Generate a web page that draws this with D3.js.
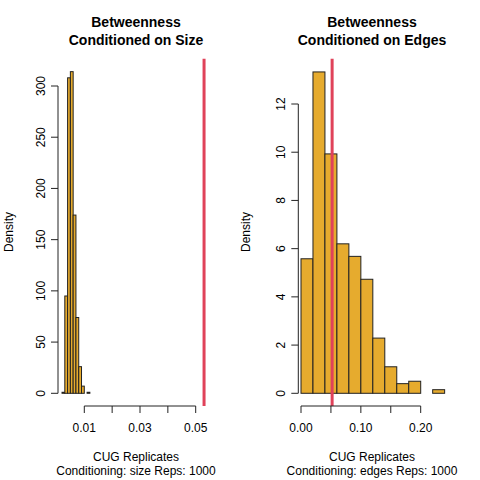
<!DOCTYPE html>
<html><head><meta charset="utf-8">
<script src="https://cdn.jsdelivr.net/npm/d3@7"></script>
<style>body{margin:0;background:#fff}text{font-family:"Liberation Sans",Arial,sans-serif}</style>
</head><body><div id="svg"></div>
<script>
// bins: [x0, x1, density]
var sizeBins = [[0.002,0.003,1],[0.003,0.004,95],[0.004,0.005,308],[0.005,0.006,314],
  [0.006,0.007,174],[0.007,0.008,74],[0.008,0.009,26],[0.009,0.010,7],[0.010,0.011,0],[0.011,0.012,1]];
var sizeObs = 0.053;
var sizeXTicks = [0.01,0.02,0.03,0.04,0.05];
var sizeXLabels = ["0.01","","0.03","","0.05"];
var sizeYTicks = [0,50,100,150,200,250,300];

var edgeDens = [5.58,13.33,9.93,6.2,5.68,4.73,2.29,1.1,0.4,0.5,0,0.15];
var edgeBins = edgeDens.map(function(d,i){ return [i*0.02,(i+1)*0.02,d]; });
var edgeObs = 0.052;
var edgeXTicks = [0,0.05,0.1,0.15,0.2];
var edgeXLabels = ["0.00","","0.10","","0.20"];
var edgeYTicks = [0,2,4,6,8,10,12];

var svg = d3.select("#svg").append("svg").attr("width",480).attr("height",480);

function panel(opt) {
    var x = d3.scaleLinear().domain(opt.xd).range(opt.xr);
    var y = d3.scaleLinear().domain(opt.yd).range(opt.yr);
    var g = svg.append("g");
    g.selectAll("rect.bar").data(opt.bins).enter().append("rect")
	.attr("x",function(d){return x(d[0]);})
	.attr("width",function(d){return x(d[1])-x(d[0]);})
	.attr("y",function(d){return y(d[2]);})
	.attr("height",function(d){return y(0)-y(d[2]);})
	.attr("fill","#E6AB2E").attr("stroke","#222").attr("stroke-width",1);
    g.append("line").attr("x1",x(opt.obs)).attr("x2",x(opt.obs))
	.attr("y1",58.8).attr("y2",406).attr("stroke","#E0425A").attr("stroke-width",3);
    // x axis
    var ax = g.append("g").attr("transform","translate(0,406)");
    ax.append("line").attr("x1",x(opt.xt[0])).attr("x2",x(opt.xt[opt.xt.length-1]))
	.attr("stroke","#222");
    opt.xt.forEach(function(t,i){
	ax.append("line").attr("x1",x(t)).attr("x2",x(t)).attr("y1",0).attr("y2",7).attr("stroke","#222");
	ax.append("text").attr("x",x(t)).attr("y",26).attr("text-anchor","middle")
	    .attr("font-size",12).text(opt.xl[i]);
    });
    // y axis
    var ay = g.append("g").attr("transform","translate("+opt.yx+",0)");
    ay.append("line").attr("y1",y(opt.yt[0])).attr("y2",y(opt.yt[opt.yt.length-1])).attr("stroke","#222");
    opt.yt.forEach(function(t){
	ay.append("line").attr("x1",0).attr("x2",-7).attr("y1",y(t)).attr("y2",y(t)).attr("stroke","#222");
	ay.append("text").attr("transform","translate(-13,"+y(t)+") rotate(-90)")
	    .attr("text-anchor","middle").attr("font-size",12).text(t);
    });
    g.append("text").attr("transform","translate("+opt.labx+",232) rotate(-90)")
	.attr("text-anchor","middle").attr("font-size",12).text("Density");
    var cx = opt.cx;
    g.append("text").attr("x",cx).attr("y",27).attr("text-anchor","middle")
	.attr("font-size",14).attr("font-weight","bold").text("Betweenness");
    g.append("text").attr("x",cx).attr("y",45).attr("text-anchor","middle")
	.attr("font-size",14).attr("font-weight","bold").text(opt.title2);
    g.append("text").attr("x",cx).attr("y",461).attr("text-anchor","middle")
	.attr("font-size",12).text("CUG Replicates");
    g.append("text").attr("x",cx).attr("y",475).attr("text-anchor","middle")
	.attr("font-size",12).text(opt.sub);
}

panel({bins:sizeBins, obs:sizeObs, xt:sizeXTicks, xl:sizeXLabels, yt:sizeYTicks,
       xd:[0.01,0.05], xr:[84.3,195.7], yd:[0,300], yr:[393.3,86], yx:58, labx:13, cx:136,
       title2:"Conditioned on Size", sub:"Conditioning: size Reps: 1000"});
panel({bins:edgeBins, obs:edgeObs, xt:edgeXTicks, xl:edgeXLabels, yt:edgeYTicks,
       xd:[0,0.2], xr:[301,420.7], yd:[0,12], yr:[393.3,104], yx:298.3, labx:250, cx:372,
       title2:"Conditioned on Edges", sub:"Conditioning: edges Reps: 1000"});
</script></body></html>
